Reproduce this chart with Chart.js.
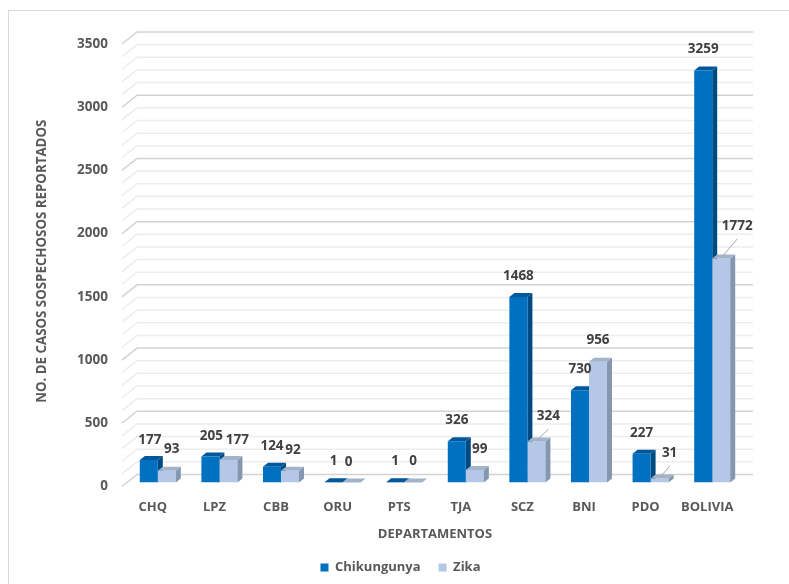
<!DOCTYPE html>
<html>
<head>
<meta charset="utf-8">
<script src="https://cdn.jsdelivr.net/npm/chart.js@4.4.1/dist/chart.umd.min.js"></script>
<style>
  html, body { margin: 0; padding: 0; background: #fff; }
  #wrap { width: 789px; height: 584px; }
</style>
</head>
<body>
<div id="wrap"><canvas id="casosChart" width="789" height="584"></canvas></div>
<script>
var departamentos = ['CHQ', 'LPZ', 'CBB', 'ORU', 'PTS', 'TJA', 'SCZ', 'BNI', 'PDO', 'BOLIVIA'];
var chikungunya = [177, 205, 124, 1, 1, 326, 1468, 730, 227, 3259];
var zika = [93, 177, 92, 0, 0, 99, 324, 956, 31, 1772];
var yMin = 0, yMax = 3500, yPaso = 500, yMenor = 100;

var fuente = '"Open Sans", Lato, sans-serif';
var gris = '#595959';

// ajustes de posicion de etiquetas (serie-indice) para evitar solapes
var ajusteEtiqueta = {
    '0-1': [1, 1], '0-0': [1, 1],
    '1-0': [5, -1], '1-1': [9, 1], '1-2': [3, 0], '1-3': [-3, 1],
    '1-5': [5, 0], '1-6': [12, -4], '1-8': [10, -4], '1-9': [16, -11]
};
var conGuia = ['1-6', '1-8', '1-9'];

var prof = { dx: 5, dy: -4 };     // fondo de cada barra
var piso = { dx: 15, dy: -12 };   // fondo del suelo / pared

var marco = {
    id: 'marco',
    beforeDraw: function(chart) {
        var ctx = chart.ctx;
        ctx.save();
        ctx.fillStyle = '#fff';
        ctx.fillRect(0, 0, chart.width, chart.height);
        ctx.strokeStyle = '#d9d9d9';
        ctx.lineWidth = 1;
        ctx.strokeRect(8.5, 10.5, chart.width + 20, chart.height + 20);
        ctx.restore();
    }
};

var rejilla3d = {
    id: 'rejilla3d',
    beforeDatasetsDraw: function(chart) {
        var ctx = chart.ctx, y = chart.scales.y, a = chart.chartArea;
        ctx.save();
        for (var v = yMin; v <= yMax; v += yMenor) {
            var py = y.getPixelForValue(v);
            var mayor = v % yPaso === 0;
            ctx.strokeStyle = mayor ? '#d3d3d3' : '#ededed';
            ctx.lineWidth = 1.5;
            ctx.beginPath();
            ctx.moveTo(a.left - 5, py + 4);
            ctx.lineTo(a.left - 5 + piso.dx, py + 4 + piso.dy);
            ctx.lineTo(a.right + 10, py + 4 + piso.dy);
            ctx.stroke();
        }
        ctx.restore();
    }
};

// lados y tapas de las barras; la serie 0 va detras de la serie 1
function dibujarCaras(chart, s) {
    var ctx = chart.ctx, ds = chart.data.datasets[s];
    ctx.save();
    chart.getDatasetMeta(s).data.forEach(function(bar) {
        var l = bar.x - bar.width / 2, r = bar.x + bar.width / 2;
        var t = bar.y, b = bar.base;
        ctx.fillStyle = ds.colorLado;
        ctx.beginPath();
        ctx.moveTo(r, t);
        ctx.lineTo(r + prof.dx, t + prof.dy);
        ctx.lineTo(r + prof.dx, b + prof.dy);
        ctx.lineTo(r, b);
        ctx.closePath();
        ctx.fill();
        ctx.fillStyle = ds.colorTapa;
        ctx.beginPath();
        ctx.moveTo(l, t);
        ctx.lineTo(l + prof.dx, t + prof.dy);
        ctx.lineTo(r + prof.dx, t + prof.dy);
        ctx.lineTo(r, t);
        ctx.closePath();
        ctx.fill();
    });
    ctx.restore();
}

var caras3d = {
    id: 'caras3d',
    beforeDatasetsDraw: function(chart) { dibujarCaras(chart, 0); },
    afterDatasetsDraw: function(chart) { dibujarCaras(chart, 1); }
};

var etiquetas = {
    id: 'etiquetas',
    afterDatasetsDraw: function(chart) {
        var ctx = chart.ctx;
        ctx.save();
        ctx.font = 'bold 13.5px ' + fuente;
        ctx.fillStyle = '#404040';
        ctx.textAlign = 'center';
        ctx.textBaseline = 'middle';
        chart.data.datasets.forEach(function(ds, s) {
            chart.getDatasetMeta(s).data.forEach(function(bar, i) {
                var k = s + '-' + i;
                var aj = ajusteEtiqueta[k] || [0, 0];
                var lx = bar.x + aj[0], ly = bar.y - 21 + aj[1];
                if (conGuia.indexOf(k) >= 0) {
                    ctx.strokeStyle = '#a6a6a6';
                    ctx.lineWidth = 1;
                    ctx.beginPath();
                    ctx.moveTo(bar.x, bar.y - 0.5);
                    ctx.lineTo(lx, ly + 12.5);
                    ctx.stroke();
                }
                ctx.fillText(ds.data[i], lx, ly);
            });
        });
        ctx.restore();
    }
};

var moverLeyenda = {
    id: 'moverLeyenda',
    afterLayout: function(chart) {
        chart.legend.left += 29;
        chart.legend.right += 29;
    }
};

var ctx = document.getElementById('casosChart').getContext('2d');
new Chart(ctx, {
    type: 'bar',
    data: {
        labels: departamentos,
        datasets: [{
            label: 'Chikungunya',
            data: chikungunya,
            backgroundColor: '#0070c0',
            colorLado: '#004a82',
            colorTapa: '#00589a'
        }, {
            label: 'Zika',
            data: zika,
            backgroundColor: '#b4c7e7',
            colorLado: '#8496b0',
            colorTapa: '#a2b3cc'
        }]
    },
    plugins: [marco, rejilla3d, caras3d, etiquetas, moverLeyenda],
    options: {
        responsive: false,
        animation: false,
        devicePixelRatio: 1,
        layout: { padding: { top: 40, left: 0, right: 46, bottom: 0 } },
        datasets: { bar: { categoryPercentage: 0.585, barPercentage: 1, borderWidth: 0 } },
        plugins: {
            tooltip: { enabled: false },
            legend: {
                position: 'bottom',
                labels: {
                    boxWidth: 8,
                    boxHeight: 8,
                    padding: 18,
                    color: gris,
                    font: { family: fuente, size: 13, weight: 'bold' }
                }
            }
        },
        scales: {
            x: {
                grid: { display: false, drawTicks: false },
                border: { display: false },
                ticks: { color: gris, font: { family: fuente, size: 13, weight: 'bold' }, padding: 17, labelOffset: -5 },
                title: { display: true, text: 'DEPARTAMENTOS', color: gris, font: { family: fuente, size: 13, weight: 'bold' }, padding: { top: 0, bottom: 1 } },
                afterFit: function(scale) { scale.height = 60.5; }
            },
            y: {
                min: yMin,
                max: yMax,
                grid: { display: false, drawTicks: false },
                border: { display: false },
                ticks: {
                    stepSize: yPaso,
                    color: gris,
                    font: { family: fuente, size: 13.5, weight: 'bold' },
                    padding: 19,
                    labelOffset: 4,
                    callback: function(v) { return String(v); }
                },
                title: { display: true, text: 'NO. DE CASOS SOSPECHOSOS REPORTADOS', color: gris, font: { family: fuente, size: 13.3, weight: 'bold' }, padding: { top: 34, bottom: 0 } },
                afterFit: function(scale) { scale.width = 127; }
            }
        }
    }
});
</script>
</body>
</html>
